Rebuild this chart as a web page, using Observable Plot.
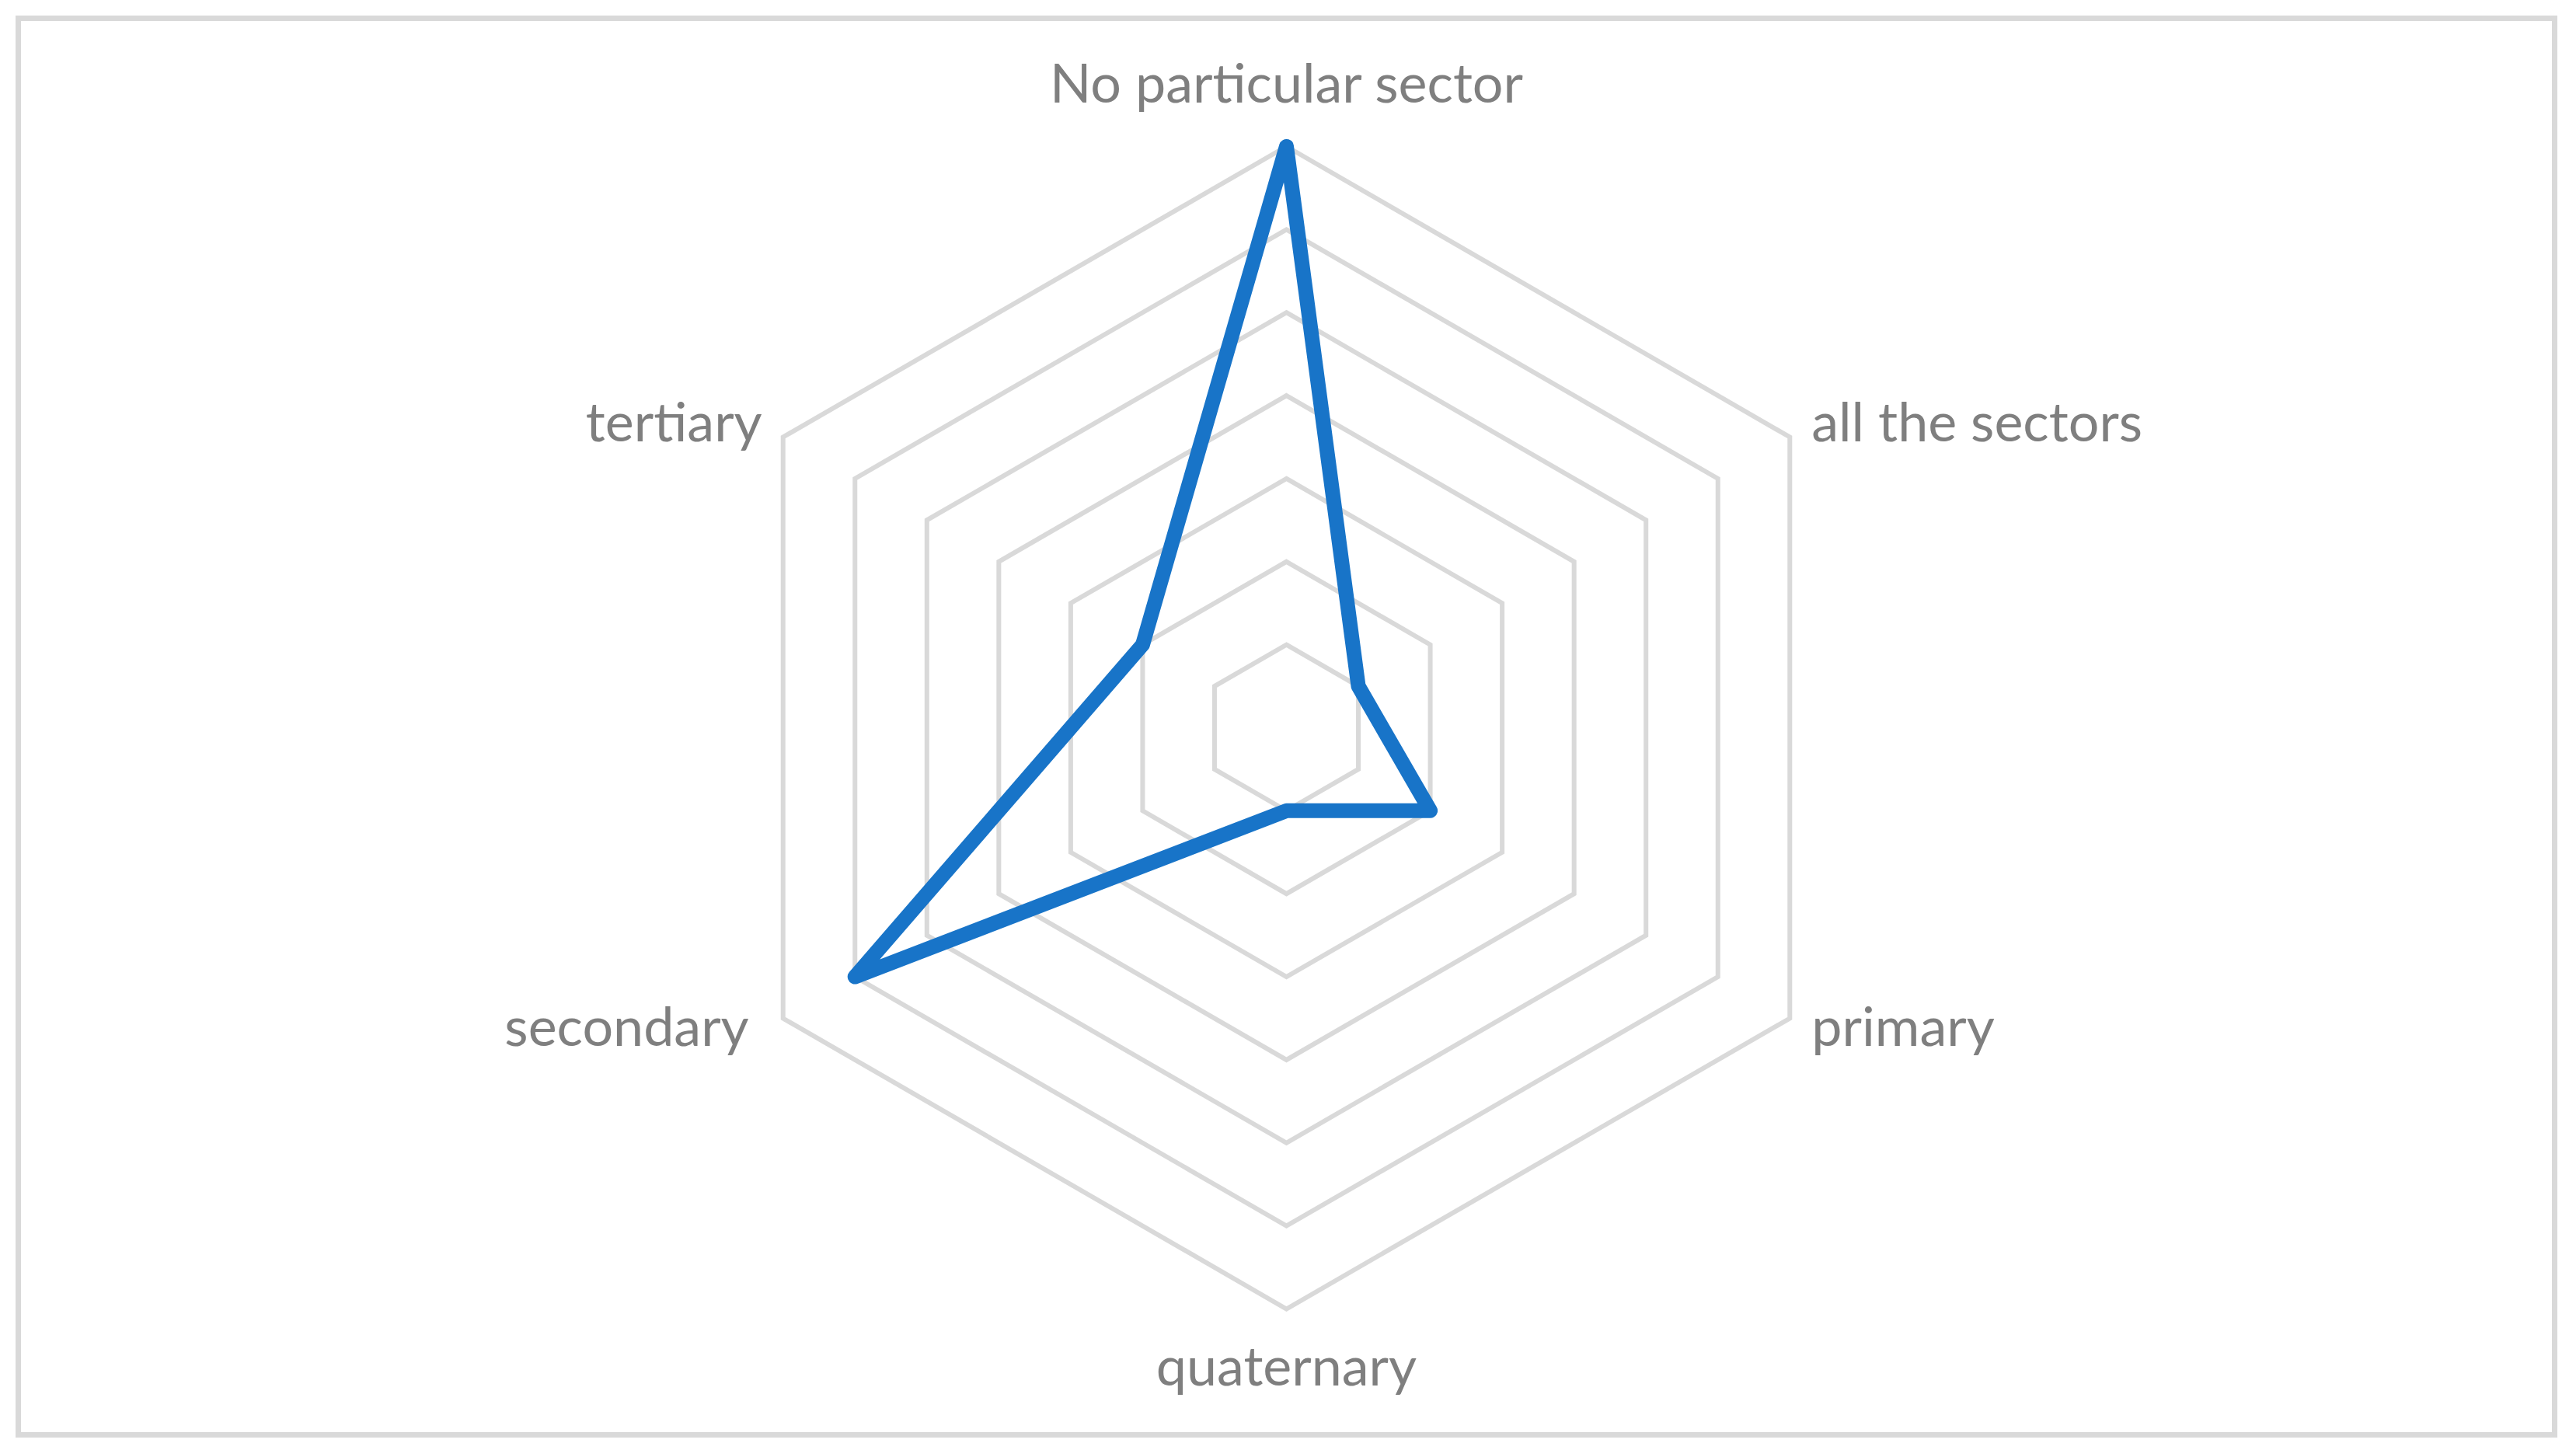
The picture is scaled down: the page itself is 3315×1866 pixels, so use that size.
<!DOCTYPE html>
<html><head><meta charset="utf-8">
<script src="https://cdn.jsdelivr.net/npm/d3@7"></script>
<script src="https://cdn.jsdelivr.net/npm/@observablehq/plot@0.6"></script>
<style>
html,body{margin:0;padding:0;background:#fff;}
#wrap{position:relative;width:3315px;height:1866px;overflow:hidden;}
#border{position:absolute;left:20px;top:20px;width:3271px;height:1830px;box-sizing:border-box;border:7px solid #d9d9d9;pointer-events:none;}
</style></head><body>
<div id="wrap"><div id="border"></div></div>
<script>
// Data
const categories = ["No particular sector", "all the sectors", "primary", "quaternary", "secondary", "tertiary"];
const values = [7, 1, 2, 1, 6, 2];
const gridLevels = [1, 2, 3, 4, 5, 6, 7];
const maxValue = 7;

// Label placement (style/layout only)
const labelLayout = [
  {textAnchor: "middle", dx: 0, dy: -57},
  {textAnchor: "start", dx: 28, dy: 5},
  {textAnchor: "start", dx: 28, dy: 35},
  {textAnchor: "middle", dx: 0, dy: 98},
  {textAnchor: "end", dx: -44, dy: 35},
  {textAnchor: "end", dx: -27, dy: 5}
];

const n = categories.length;
const ang = i => 2 * Math.PI * i / n;
const px = (r, i) => r * Math.sin(ang(i));
const py = (r, i) => r * Math.cos(ang(i));

const gridData = gridLevels.flatMap(level => d3.range(n).map(i => ({level, x: px(level, i), y: py(level, i)})));
const seriesData = categories.map((c, i) => ({category: c, x: px(values[i], i), y: py(values[i], i)}));
const labelData = categories.map((c, i) => ({label: c, x: px(maxValue, i), y: py(maxValue, i)}));

const chart = Plot.plot({
  width: 3315,
  height: 1866,
  marginLeft: 907,
  marginRight: 912,
  marginTop: 188,
  marginBottom: 182,
  x: {domain: [-maxValue, maxValue], axis: null},
  y: {domain: [-maxValue, maxValue], axis: null},
  style: {background: "transparent", overflow: "visible"},
  marks: [
    Plot.line(gridData, {x: "x", y: "y", z: "level", curve: "linear-closed", stroke: "#d9d9d9", strokeWidth: 6, strokeLinejoin: "miter", strokeMiterlimit: 4}),
    Plot.line(seriesData, {x: "x", y: "y", curve: "linear-closed", stroke: "#1874c8", strokeWidth: 19, strokeLinejoin: "round"}),
    ...labelData.map((d, i) => Plot.text([d], {
      x: "x", y: "y", text: "label",
      textAnchor: labelLayout[i].textAnchor,
      dx: labelLayout[i].dx, dy: labelLayout[i].dy,
      lineAnchor: "bottom",
      fontSize: 70,
      fontFamily: "Lato, 'Open Sans', sans-serif",
      fill: "#7f7f7f"
    }))
  ]
});
document.getElementById("wrap").prepend(chart);
</script>
</body></html>
